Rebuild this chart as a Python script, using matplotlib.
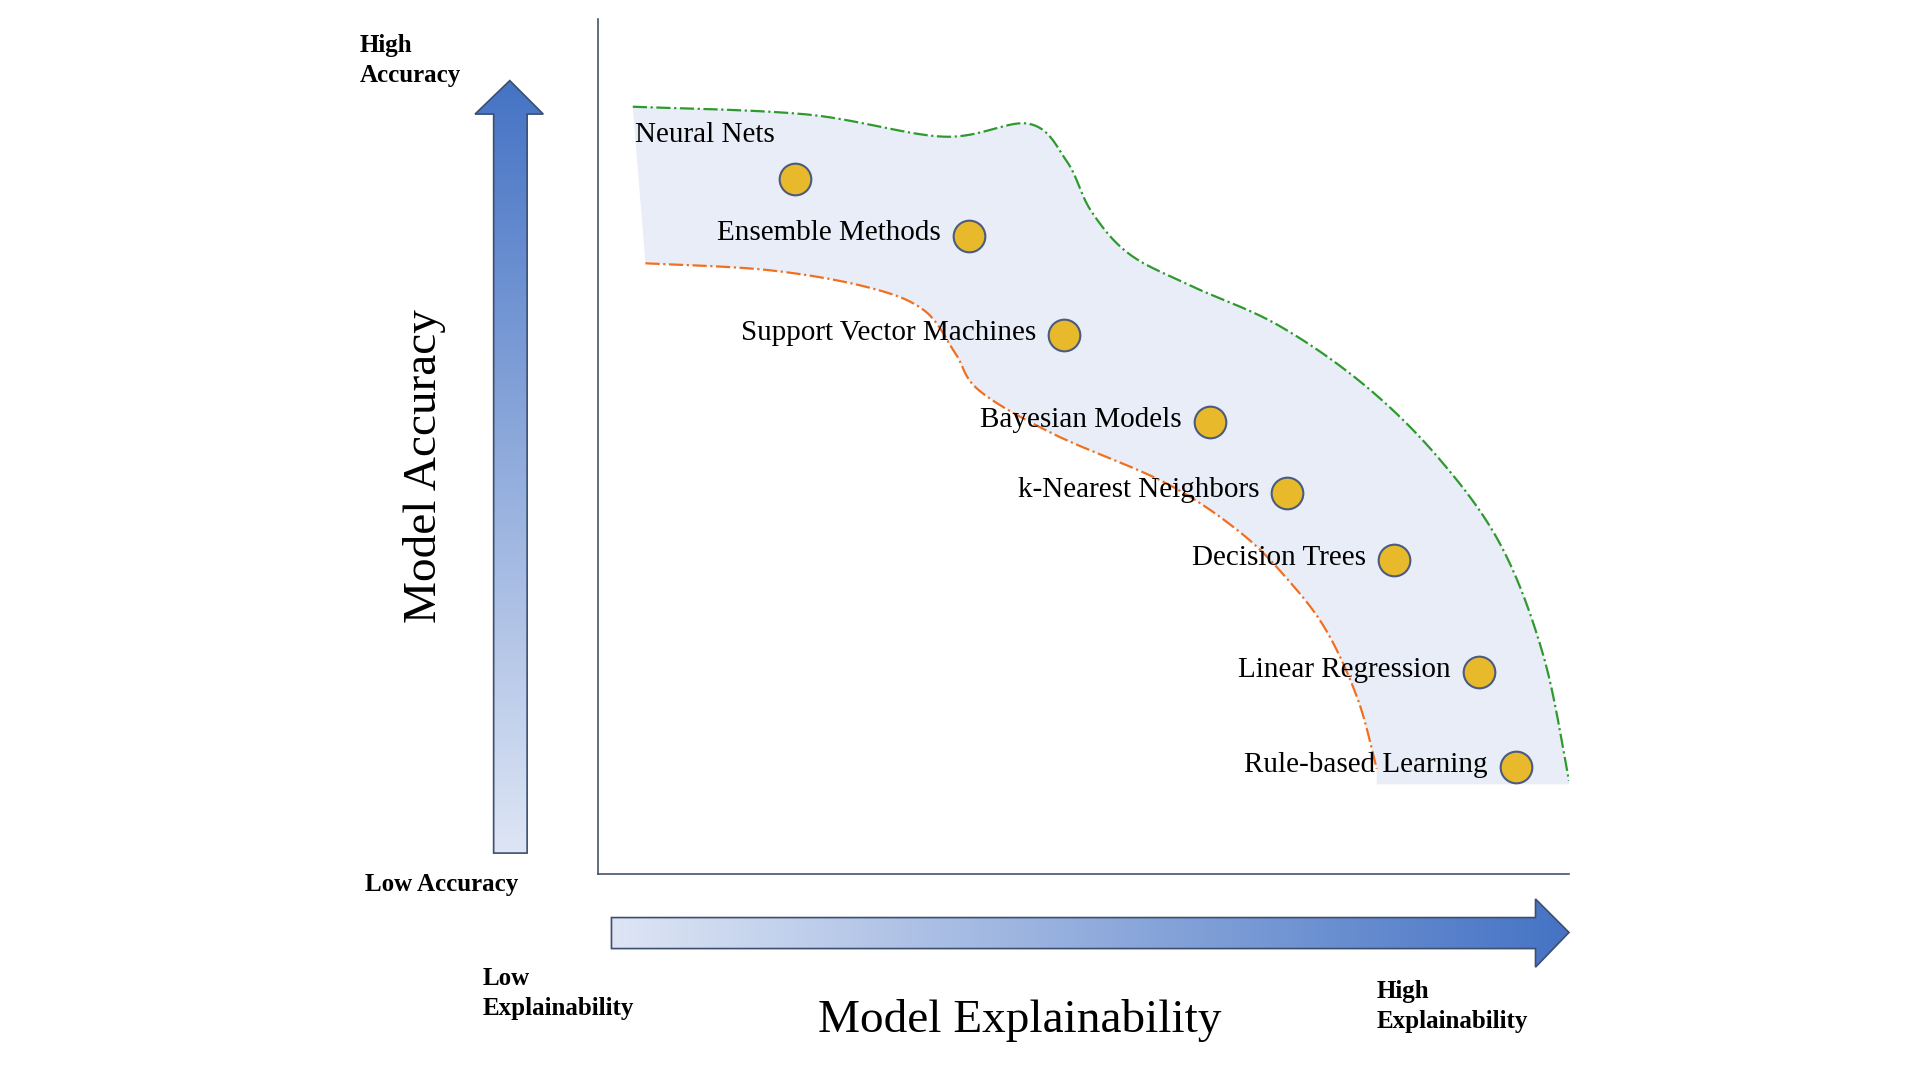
import numpy as np
import matplotlib
matplotlib.use("Agg")
import matplotlib.pyplot as plt
from matplotlib.patches import Polygon

plt.rcParams['font.family'] = ['Liberation Serif', 'DejaVu Serif']

models = ["Neural Nets", "Ensemble Methods", "Support Vector Machines", "Bayesian Models",
          "k-Nearest Neighbors", "Decision Trees", "Linear Regression", "Rule-based Learning"]
explainability = [20.3, 38.2, 48.0, 63.0, 71.0, 82.0, 90.7, 94.5]
accuracy = [81.2, 74.6, 63.0, 52.8, 44.6, 36.7, 23.6, 12.5]

upper_x = [3.6, 21.5, 35.6, 44.4, 48.3, 50.8, 54.7, 61.0, 70.0, 78.9, 86.6, 93.0, 97.4, 100.0]
upper_y = [89.7, 88.8, 86.2, 87.7, 83.3, 77.5, 72.5, 68.8, 64.2, 57.2, 48.6, 38.4, 25.4, 10.9]
lower_x = [4.9, 17.6, 27.8, 33.6, 36.8, 39.3, 47.0, 58.5, 66.2, 71.3, 75.1, 78.3, 80.2]
lower_y = [71.4, 70.6, 68.6, 65.9, 60.9, 56.5, 51.4, 45.7, 39.9, 34.1, 28.3, 20.3, 12.3]

def smooth(xs, ys, n=20):
    p = np.column_stack([xs, ys]).astype(float)
    p = np.vstack([p[0], p, p[-1]])
    out = []
    for i in range(1, len(p) - 2):
        p0, p1, p2, p3 = p[i-1], p[i], p[i+1], p[i+2]
        for t in np.linspace(0, 1, n, endpoint=False):
            out.append(0.5*((2*p1) + (-p0+p2)*t + (2*p0-5*p1+4*p2-p3)*t**2 + (-p0+3*p1-3*p2+p3)*t**3))
    out.append(p[-2])
    out = np.array(out)
    return out[:, 0], out[:, 1]

W, H = 1548, 871
fig = plt.figure(figsize=(19.2, 10.8), dpi=100)
ax = fig.add_axes([482/W, 1-705/H, (1265-482)/W, (705-15)/H])
ax.set_xlim(0, 100)
ax.set_ylim(0, 100)
for s in ['top', 'right']:
    ax.spines[s].set_visible(False)
for s in ['left', 'bottom']:
    ax.spines[s].set_color('#44546a')
    ax.spines[s].set_linewidth(1.2)
ax.set_xticks([]); ax.set_yticks([])

ux, uy = smooth(upper_x, upper_y)
lx, ly = smooth(lower_x, lower_y)
poly_x = np.concatenate([ux, [100.0, lx[-1]], lx[::-1], [ux[0]]])
poly_y = np.concatenate([uy, [10.5, 10.5], ly[::-1], [uy[0]]])
ax.fill(poly_x, poly_y, color='#e9edf8', zorder=1, lw=0)
ax.plot(ux, uy, color='#2e9a2e', ls='-.', lw=1.6, zorder=2)
ax.plot(lx, ly, color='#f07020', ls='-.', lw=1.6, zorder=2)

ax.scatter(explainability, accuracy, s=520, color='#e8b92a', edgecolors='#4a5a80', linewidths=1.5, zorder=4)
for i, (m, x, y) in enumerate(zip(models, explainability, accuracy)):
    if i == 0:
        ax.text(x - 16.5, y + 5.2, m, fontsize=21, ha='left', va='center', zorder=5)
    else:
        ax.text(x - 2.9, y + 0.3, m, fontsize=21, ha='right', va='center', zorder=5)

# overlay for arrows and labels
ov = fig.add_axes([0, 0, 1, 1], zorder=-1)
ov.set_xlim(0, W); ov.set_ylim(H, 0); ov.axis('off')
ov2 = fig.add_axes([0, 0, 1, 1])
ov2.set_xlim(0, W); ov2.set_ylim(H, 0); ov2.axis('off')
ov2.patch.set_alpha(0)

light = np.array([0.87, 0.90, 0.96]); dark = np.array([0.27, 0.45, 0.77])
def grad(vertical):
    t = np.linspace(0, 1, 256)
    c = light[None, :]*(1-t[:, None]) + dark[None, :]*t[:, None]
    return c[::-1][:, None, :] if vertical else c[None, :, :]

vpoly = [(398, 688), (398, 92), (383, 92), (411, 65), (438, 92), (425, 92), (425, 688)]
im = ov2.imshow(grad(True), extent=[383, 438, 688, 65], aspect='auto', zorder=1)
pv = Polygon(vpoly, closed=True, fc='none', ec='#3c4f70', lw=1.2, zorder=2)
ov2.add_patch(pv); im.set_clip_path(pv)

hpoly = [(493, 740), (1238, 740), (1238, 725), (1265, 752), (1238, 780), (1238, 765), (493, 765)]
im2 = ov2.imshow(grad(False), extent=[493, 1265, 780, 725], aspect='auto', zorder=1)
ph = Polygon(hpoly, closed=True, fc='none', ec='#3c4f70', lw=1.2, zorder=2)
ov2.add_patch(ph); im2.set_clip_path(ph)

bold = dict(fontsize=18, fontweight='bold', ha='left', va='center')
ov2.text(290, 49, "High\nAccuracy", linespacing=1.4, **bold)
ov2.text(294, 713, "Low Accuracy", **bold)
ov2.text(389, 801, "Low\nExplainability", linespacing=1.4, **bold)
ov2.text(1110, 812, "High\nExplainability", linespacing=1.4, **bold)
ov2.text(342, 376, "Model Accuracy", fontsize=34, rotation=90, ha='center', va='center')
ov2.text(822, 823, "Model Explainability", fontsize=34, ha='center', va='center')

fig.savefig("out.png", dpi=100)
